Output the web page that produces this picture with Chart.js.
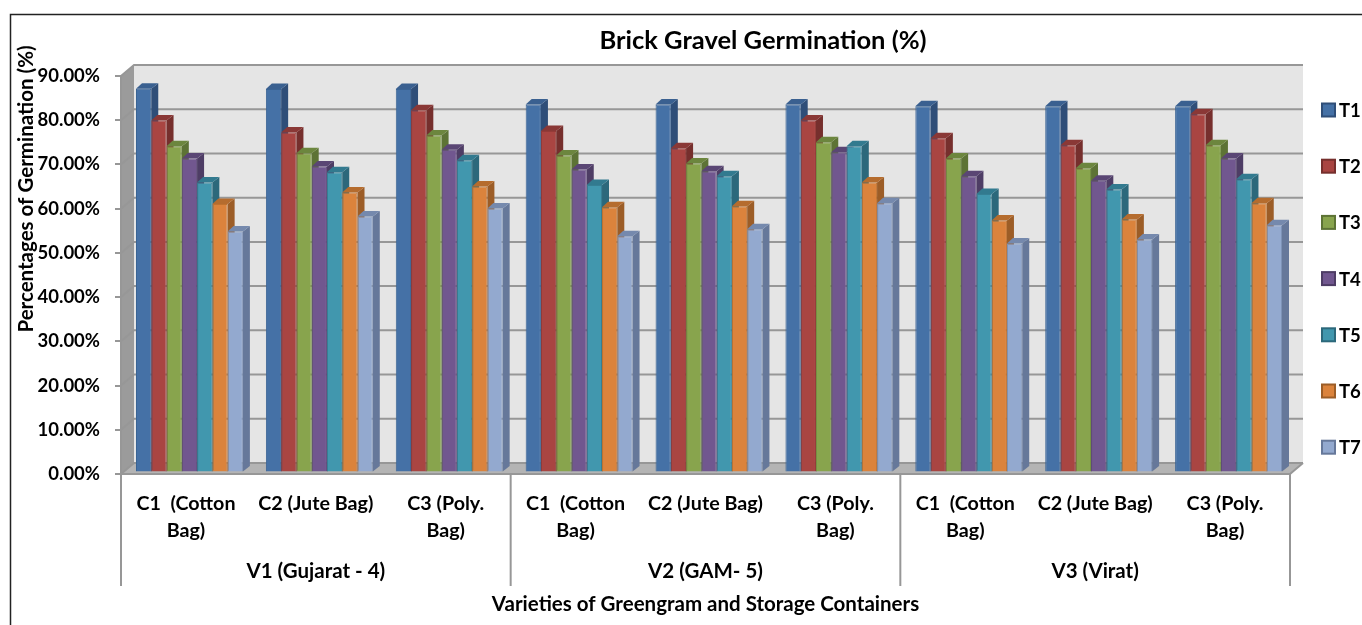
<!DOCTYPE html>
<html><head><meta charset="utf-8">
<style>html,body{margin:0;padding:0;background:#fff;overflow:hidden}#w{width:1362px;height:625px;position:relative}canvas{display:block;filter:blur(0.45px)}</style>
<script src="https://cdn.jsdelivr.net/npm/chart.js@4/dist/chart.umd.min.js"></script>
</head><body><div id="w"><canvas id="c" width="1362" height="625"></canvas></div>
<script>
const categories=[["C1  (Cotton","Bag)"],"C2 (Jute Bag)",["C3 (Poly.","Bag)"],["C1  (Cotton","Bag)"],"C2 (Jute Bag)",["C3 (Poly.","Bag)"],["C1  (Cotton","Bag)"],"C2 (Jute Bag)",["C3 (Poly.","Bag)"]];
const varieties=["V1 (Gujarat - 4)","V2 (GAM- 5)","V3 (Virat)"];
const seriesNames=["T1","T2","T3","T4","T5","T6","T7"];
const T1=[86.8,86.7,86.7,83.2,83.2,83.2,82.8,82.8,82.8];
const T2=[79.6,76.9,81.9,77.2,73.3,79.6,75.6,74.0,81.0];
const T3=[73.8,72.2,76.2,71.7,69.9,74.7,71.0,68.8,74.0];
const T4=[71.0,69.2,73.0,68.5,68.1,72.4,67.0,66.0,71.0];
const T5=[65.6,67.9,70.6,65.0,67.0,73.8,63.0,64.0,66.3];
const T6=[60.7,63.3,64.7,60.0,60.2,65.6,57.0,57.2,60.9];
const T7=[54.5,57.9,59.7,53.4,55.0,60.9,51.8,52.7,55.9];
const seriesValues=[T1,T2,T3,T4,T5,T6,T7];
const frontColors=["#4571a6","#a94542","#88a44d","#71578f","#4197ae","#db833c","#93a9cf"];
const edgeColors=["#3a6394","#943b38","#759043","#604a7c","#367f94","#c0722f","#7d92b6"];
const sideColors=["#2f4e78","#762f2d","#5d7335","#4e3d65","#2c687b","#9c5d27","#66789a"];
const topColors=["#3a6090","#8a3836","#6c863e","#5a4674","#327a8f","#b56c2e","#7589ad"];
const chartTitle="Brick Gravel Germination (%)";
const yTitle="Percentages of Germination (%)";
const xTitle="Varieties of Greengram and Storage Containers";
const FONT="Lato, Carlito, sans-serif";
const wallDx=13,wallDy=11,barShift=3.5,barLift=1.5,barDx=7,barDy=5.5,gridCol="#979797";
function poly(ctx,pts,fill){ctx.beginPath();pts.forEach((p,i)=>i?ctx.lineTo(p[0],p[1]):ctx.moveTo(p[0],p[1]));ctx.closePath();ctx.fillStyle=fill;ctx.fill();}
const scene={id:'scene',
 beforeDraw(ch){const c=ch.ctx,{x,y}=ch.scales;const L=x.left,R=x.right,B=y.bottom,T=y.top;
  c.save();c.fillStyle="#fff";c.fillRect(0,0,1362,625);
  c.strokeStyle="#222";c.lineWidth=1.5;c.beginPath();c.moveTo(10.5,625);c.lineTo(10.5,14.5);c.lineTo(1362,14.5);c.stroke();
  poly(c,[[L+wallDx,T-wallDy],[R+wallDx,T-wallDy],[R+wallDx,B-wallDy],[L+wallDx,B-wallDy]],"#e5e5e5");
  poly(c,[[L,T],[L+wallDx,T-wallDy],[L+wallDx,B-wallDy],[L,B]],"#9b9b9b");
  poly(c,[[L,B],[L+wallDx,B-wallDy],[R+wallDx,B-wallDy],[R,B]],"#b4b4b4");
  c.strokeStyle=gridCol;c.lineWidth=2;
  y.ticks.forEach(t=>{const py=y.getPixelForValue(t.value);c.beginPath();c.moveTo(L,py);c.lineTo(L+wallDx,py-wallDy);c.lineTo(R+wallDx,py-wallDy);c.stroke();});
  c.beginPath();c.moveTo(R,B);c.lineTo(R+wallDx,B-wallDy);c.stroke();
  c.restore();},
 beforeDatasetsDraw(ch){const c=ch.ctx;c.save();c.translate(barShift,-barLift);
  ch.data.datasets.forEach((d,i)=>{ch.getDatasetMeta(i).data.forEach(b=>{const l=b.x-b.width/2,r=b.x+b.width/2;
    poly(c,[[r,b.y],[r+barDx,b.y-barDy],[r+barDx,b.base-barDy],[r,b.base]],sideColors[i]);
    poly(c,[[l,b.y],[l+barDx-1,b.y-barDy],[r+barDx,b.y-barDy],[r,b.y]],topColors[i]);
  });});},
 afterDatasetsDraw(ch){ch.ctx.restore();},
 afterDraw(ch){const c=ch.ctx,{x,y}=ch.scales;c.save();
  const step=(x.right-x.left)/categories.length;
  c.strokeStyle=gridCol;c.lineWidth=2;
  for(let i=0;i<=varieties.length;i++){const px=x.left+i*3*step;c.beginPath();c.moveTo(px,y.bottom);c.lineTo(px,586);c.stroke();}
  c.fillStyle="#000";c.textAlign="center";c.textBaseline="middle";
  c.font="bold 20.5px "+FONT;
  varieties.forEach((v,i)=>c.fillText(v,x.getPixelForValue(i*3+1),571.5));
  c.font="bold 25.5px "+FONT;c.fillText(chartTitle,763,41);
  c.save();c.translate(26,189);c.rotate(-Math.PI/2);c.font="bold 20.5px "+FONT;c.fillText(yTitle,0,0);c.restore();
  c.textAlign="left";c.font="bold 18.5px "+FONT;
  seriesNames.forEach((n,i)=>{const cy=110+i*56.2;c.fillStyle=frontColors[i];c.fillRect(1322,cy-6.5,13,13);c.strokeStyle=sideColors[i];c.lineWidth=2;c.strokeRect(1322,cy-6.5,13,13);c.fillStyle="#000";c.fillText(n,1339,cy+1);});
  c.restore();}
};
new Chart(document.getElementById('c'),{type:'bar',
 data:{labels:categories,datasets:seriesNames.map((n,i)=>({label:n,data:seriesValues[i],backgroundColor:frontColors[i],borderColor:edgeColors[i],borderWidth:1,barPercentage:1,categoryPercentage:0.823}))},
 options:{responsive:false,animation:false,
  layout:{padding:{left:0,right:72,top:76,bottom:0}},
  plugins:{legend:{display:false},title:{display:false},tooltip:{enabled:false}},
  scales:{
   x:{afterFit(s){s.height=151;},
      grid:{display:false},border:{display:true,color:gridCol,width:2},
      ticks:{autoSkip:false,maxRotation:0,minRotation:0,padding:8,color:"#000",font:{family:FONT,weight:"bold",size:19.7,lineHeight:1.37}},
      title:{display:true,text:xTitle,color:"#000",font:{family:FONT,weight:"bold",size:20.5},padding:{top:0,bottom:8}}},
   y:{min:0,max:90,afterFit(s){s.width=121;},
      grid:{drawOnChartArea:false,tickLength:6,color:gridCol,lineWidth:2},border:{display:true,color:gridCol,width:2},
      ticks:{stepSize:10,padding:15,color:"#000",font:{family:FONT,weight:"bold",size:18.5},callback:v=>v.toFixed(2)+"%"}}
  }},
 plugins:[scene]});
</script></body></html>
